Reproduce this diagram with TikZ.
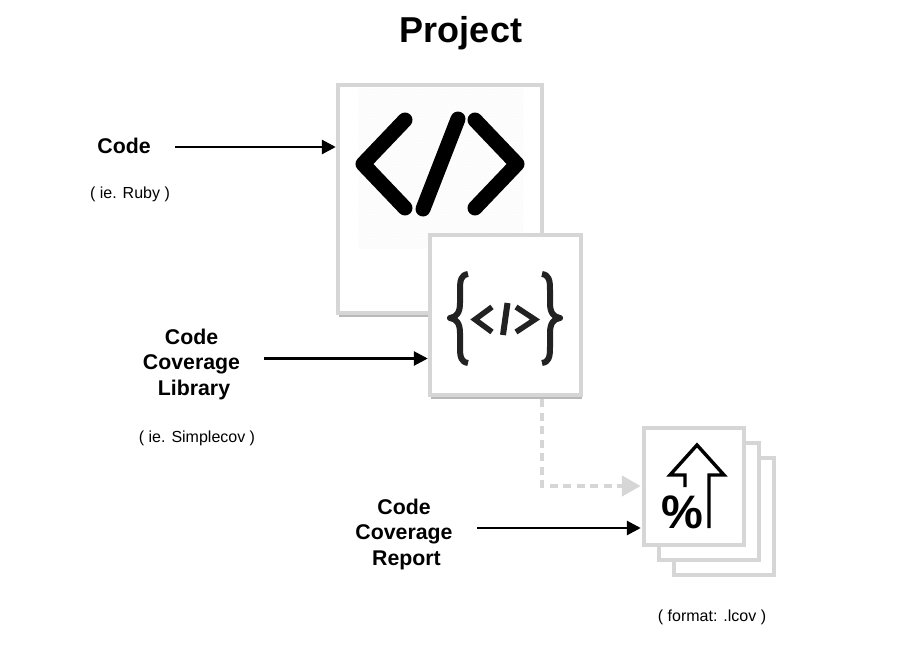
\documentclass[tikz,border=0pt]{standalone}
\usepackage{fontspec}
\setmainfont{Liberation Sans}
\usetikzlibrary{positioning,arrows.meta,shadows,patterns}
\definecolor{boxgray}{HTML}{D6D6D6}
\definecolor{icondark}{HTML}{222222}

\begin{document}
\begin{tikzpicture}[x=1pt,y=-1pt,
    box/.style={draw=boxgray,fill=white,line width=4.4pt},
    shadowbox/.style={box,drop shadow={shadow xshift=1pt,shadow yshift=-3.5pt,opacity=.55,fill=gray}},
    lbl/.style={font=\fontsize{21.3}{25.5}\selectfont\bfseries,align=center},
    note/.style={font=\fontsize{16}{19}\selectfont},
    arr/.style={-{Triangle[length=14pt,width=14pt]},line width=2.8pt},
    dasharr/.style={-{Triangle[length=19pt,width=20pt]},draw=boxgray,line width=4.4pt,dash pattern=on 8pt off 5.5pt},
    bigicon/.style={line width=15pt,line cap=round,line join=round},
    smallicon/.style={draw=icondark,line width=6pt},
    reporticon/.style={line width=3.4pt,line join=miter}]
            \useasboundingbox (0,0) rectangle (922,645);

            \node[shadowbox,minimum width=204pt,minimum height=228pt] (codebox) at (440,199) {};
            \fill[pattern=north east lines,pattern color=gray!5] (358,88) rectangle (523,248);
            \draw[bigicon] (405,120) -- (363,164) -- (405,208);
            \draw[bigicon] (458,119) -- (423,209);
            \draw[bigicon] (475,120) -- (517,164) -- (475,208);

            \node[shadowbox,minimum width=151pt,minimum height=160pt] (libbox) at (505.5,315) {};
            \draw[smallicon,line join=round] (468,274) .. controls (461,275) and (460,280) .. (460,290) -- (460,303) .. controls (460,312) and (457,317) .. (450,318) .. controls (457,319) and (460,324) .. (460,333) -- (460,347) .. controls (460,357) and (461,362) .. (468,363);
            \draw[smallicon,line join=round] (542,274) .. controls (549,275) and (550,280) .. (550,290) -- (550,303) .. controls (550,312) and (553,317) .. (560,318) .. controls (553,319) and (550,324) .. (550,333) -- (550,347) .. controls (550,357) and (549,362) .. (542,363);
            \draw[smallicon,line width=5.5pt] (492,307) -- (475,319.5) -- (492,332);
            \draw[smallicon] (507.5,303) -- (503,335);
            \draw[smallicon,line width=5.5pt] (516,307) -- (535,319.5) -- (516,332);

            \node[box,minimum width=100pt,minimum height=117pt] (reportc) at (724,516.5) {};
            \node[box,minimum width=100pt,minimum height=117pt] (reportb) at (709,501.5) {};
            \node[box,minimum width=100pt,minimum height=117pt] (report) at (694,486.5) {};
            \draw[reporticon] (685,487) -- (685,475) -- (670,475) -- (697,445) -- (724,475) -- (709,475) -- (709,528);
            \node[font=\fontsize{47}{47}\selectfont\bfseries,inner sep=0pt] (percent) at (682,512) {\%};

            \node[font=\fontsize{36}{40}\selectfont\bfseries] (title) at (461,33.5) {Project};

            \node[lbl] (code) at (124,146) {Code};
            \node[note] (codenote) at (130,194.5) {( ie. Ruby )};
            \node[lbl] (lib) at (191.5,364) {Code\\Coverage\\\hspace*{5pt}Library};
            \node[note] (libnote) at (197,438.5) {( ie. Simplecov )};
            \node[lbl] (rep) at (404,534) {Code\\Coverage\\\hspace*{5pt}Report};
            \node[note] (repnote) at (712,617.5) {( format: .lcov )};

            \coordinate (codein) at (175,147);
            \coordinate (libin) at (264,358.5);
            \coordinate (repin) at (477,528);
            \coordinate (dashin) at (542,399);
            \coordinate (dashturn) at (542,486);

            \draw[arr] (codein) -- (codein -| codebox.west);
            \draw[arr] (libin) -- (libin -| libbox.west);
            \draw[arr,shorten >=1pt] (repin) -- (repin -| report.west);
            \draw[dasharr,shorten >=1pt] (dashin) -- (dashturn) -- (dashturn -| report.west);
          \end{tikzpicture}
\end{document}
